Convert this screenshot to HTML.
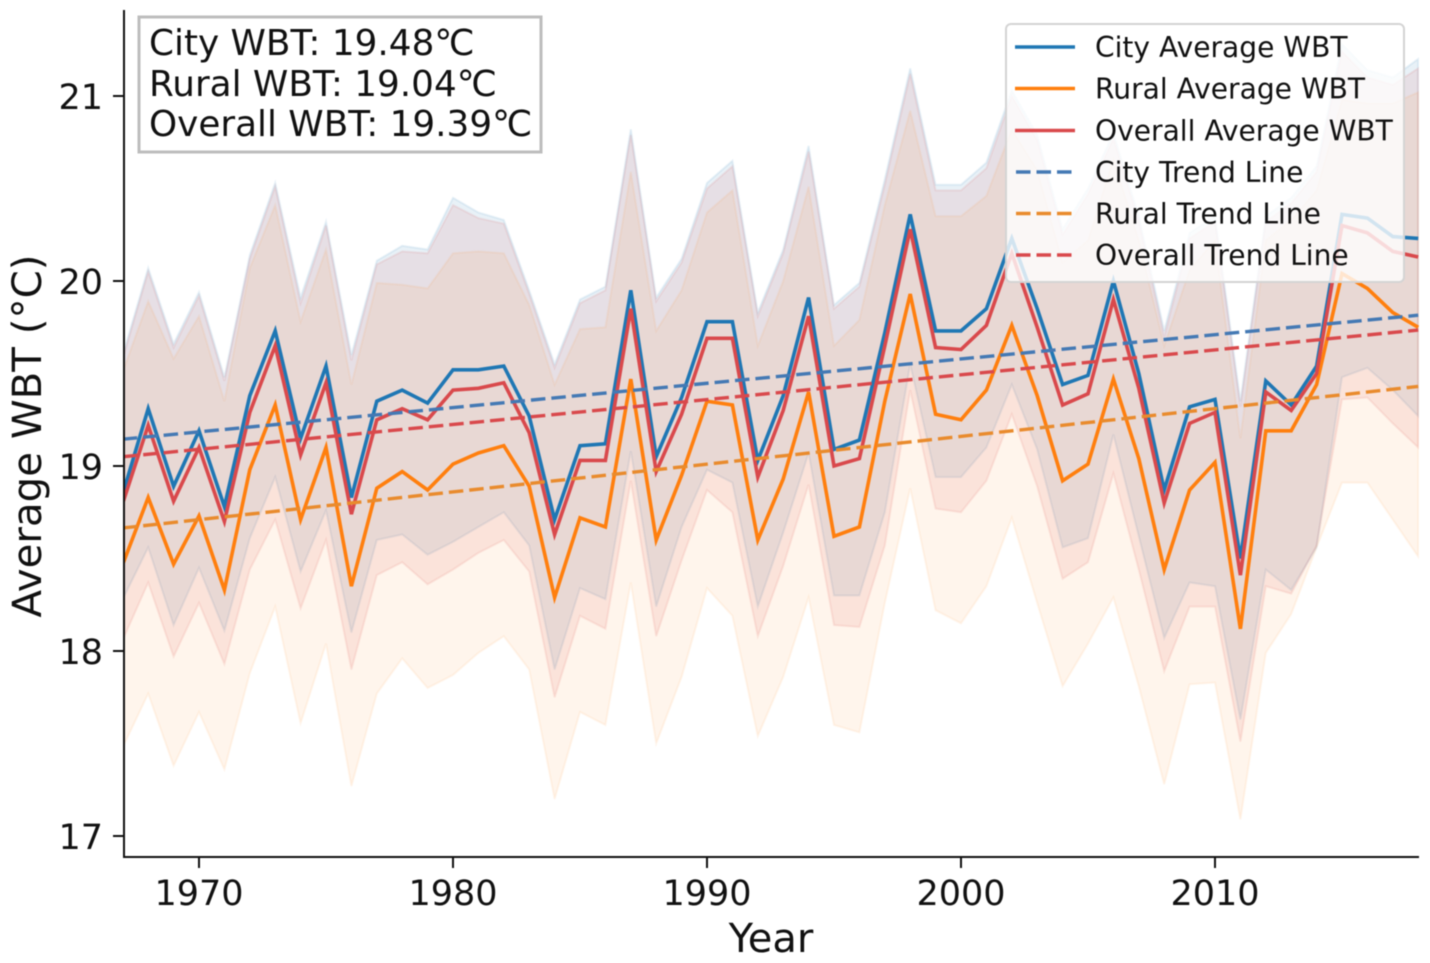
<!DOCTYPE html>
<html lang="en">
<head>
<meta charset="utf-8">
<title>Average WBT by Year</title>
<style>
html,body{margin:0;padding:0;background:#fff;width:1430px;height:963px;overflow:hidden}
svg{display:block;filter:blur(0.45px)}
text{font-family:"DejaVu Sans","Liberation Sans",sans-serif;fill:#111}
</style>
</head>
<body>
<svg id="chart" xmlns="http://www.w3.org/2000/svg" width="1430" height="963" viewBox="0 0 1430 963">
  <defs><clipPath id="plot-clip"><rect x="124" y="10" width="1295" height="847"/></clipPath></defs>
  <g id="bands" clip-path="url(#plot-clip)"></g>
  <g id="lines" clip-path="url(#plot-clip)"></g>
  <g id="axes"></g>
  <text x="771" y="952" font-size="40" text-anchor="middle">Year</text>
  <text transform="translate(41,436) rotate(-90)" font-size="40.300" text-anchor="middle">Average WBT (°C)</text>

  <g>
    <rect x="139" y="17" width="402" height="135" fill="#fff" stroke="#bdbdbd" stroke-width="3"/>
    <text x="149" y="55" font-size="35.8">City WBT: 19.48℃</text>
    <text x="149" y="96" font-size="35.8">Rural WBT: 19.04℃</text>
    <text x="149" y="136" font-size="35.8">Overall WBT: 19.39℃</text>
  </g>

  <g>
    <rect x="1006" y="24" width="398" height="258" rx="5" fill="#fff" fill-opacity="0.8" stroke="#d4d4d4" stroke-width="2"/>
    <g>
      <line x1="1015" x2="1075" y1="47" y2="47" stroke="#1f77b4" stroke-width="3.5"/>
      <text x="1095" y="57" font-size="28.1">City Average WBT</text>
    </g>
    <g>
      <line x1="1015" x2="1075" y1="88.5" y2="88.5" stroke="#ff7f0e" stroke-width="3.5"/>
      <text x="1095" y="98.500" font-size="28.1">Rural Average WBT</text>
    </g>
    <g>
      <line x1="1015" x2="1075" y1="130.5" y2="130.5" stroke="#d9494c" stroke-width="3.5"/>
      <text x="1095" y="140.500" font-size="28.1">Overall Average WBT</text>
    </g>
    <g>
      <line x1="1016" x2="1072" y1="172" y2="172" stroke="#4479b4" stroke-width="3.5" stroke-dasharray="14.500 6"/>
      <text x="1095" y="182" font-size="28.1">City Trend Line</text>
    </g>
    <g>
      <line x1="1016" x2="1072" y1="213.5" y2="213.5" stroke="#e98b2d" stroke-width="3.5" stroke-dasharray="14.500 6"/>
      <text x="1095" y="223.500" font-size="28.1">Rural Trend Line</text>
    </g>
    <g>
      <line x1="1016" x2="1072" y1="255" y2="255" stroke="#d9494c" stroke-width="3.5" stroke-dasharray="14.500 6"/>
      <text x="1095" y="265" font-size="28.1">Overall Trend Line</text>
    </g>
  </g>
</svg>
<script>
const xTickLabels = [1970, 1980, 1990, 2000, 2010];
const yTickLabels = [17, 18, 19, 20, 21];
const startYear = 1967;

const cityValues = [18.85,19.31,18.89,19.19,18.78,19.38,19.73,19.15,19.54,18.83,19.35,19.41,19.34,19.52,19.52,19.54,19.27,18.71,19.11,19.12,19.95,19.05,19.37,19.78,19.78,19.03,19.38,19.91,19.09,19.14,19.72,20.36,19.73,19.73,19.85,20.23,19.85,19.44,19.49,20.0,19.5,18.87,19.32,19.36,18.5,19.46,19.33,19.54,20.36,20.34,20.24,20.23];
const ruralValues = [18.47,18.83,18.47,18.73,18.33,18.98,19.33,18.71,19.10,18.35,18.88,18.97,18.87,19.01,19.07,19.11,18.89,18.29,18.72,18.67,19.47,18.60,18.95,19.35,19.33,18.60,18.93,19.40,18.62,18.67,19.35,19.93,19.28,19.25,19.41,19.76,19.38,18.92,19.01,19.47,19.04,18.44,18.87,19.02,18.12,19.19,19.19,19.44,20.04,19.96,19.83,19.75];
const overallValues = [18.80,19.22,18.81,19.10,18.70,19.29,19.65,19.06,19.45,18.74,19.25,19.31,19.25,19.41,19.42,19.45,19.18,18.63,19.03,19.03,19.85,18.97,19.28,19.69,19.69,18.94,19.30,19.81,19.0,19.04,19.65,20.28,19.64,19.63,19.76,20.15,19.75,19.33,19.39,19.90,19.42,18.80,19.23,19.29,18.41,19.40,19.30,19.50,20.30,20.26,20.16,20.13];

const cityUpper = [19.6,20.07,19.66,19.94,19.48,20.14,20.53,19.91,20.32,19.6,20.11,20.19,20.17,20.45,20.37,20.33,19.95,19.55,19.9,19.97,20.82,19.91,20.12,20.53,20.65,19.83,20.17,20.73,19.87,19.99,20.55,21.15,20.52,20.52,20.64,21.03,20.79,20.28,20.5,20.8,20.35,19.73,20.26,20.35,19.35,20.35,20.45,20.62,21.28,21.14,21.1,21.2];
const cityLower = [18.28,18.56,18.14,18.45,18.11,18.61,18.94,18.43,18.76,18.1,18.6,18.63,18.52,18.59,18.67,18.75,18.57,17.9,18.34,18.28,19.08,18.24,18.67,18.98,18.91,18.24,18.64,19.07,18.3,18.3,18.75,19.55,18.94,18.94,19.1,19.44,19.09,18.56,18.61,19.17,18.62,18.07,18.37,18.35,17.63,18.44,18.33,18.56,19.48,19.53,19.41,19.27];
const ruralUpper = [19.51,19.89,19.58,19.81,19.35,20.07,20.41,19.78,20.17,19.44,19.99,19.98,19.96,20.15,20.16,20.15,19.87,19.44,19.74,19.75,20.59,19.73,19.95,20.37,20.49,19.65,20.0,20.51,19.65,19.79,20.41,20.92,20.35,20.35,20.46,20.82,20.6,20.1,20.22,20.66,20.22,19.65,20.06,20.22,19.15,20.22,20.33,20.49,20.98,20.96,20.96,21.02];
const ruralLower = [17.48,17.77,17.38,17.67,17.36,17.88,18.24,17.61,18.04,17.27,17.77,17.96,17.8,17.87,17.99,18.08,17.9,17.2,17.67,17.6,18.37,17.5,17.86,18.34,18.19,17.54,17.86,18.29,17.6,17.56,18.26,18.88,18.22,18.15,18.35,18.72,18.26,17.81,18.04,18.29,17.81,17.28,17.82,17.83,17.09,17.99,18.2,18.56,18.91,18.91,18.71,18.51];
const overallUpper = [19.58,20.05,19.64,19.92,19.46,20.12,20.51,19.88,20.3,19.57,20.09,20.16,20.15,20.41,20.34,20.31,19.93,19.53,19.88,19.95,20.79,19.89,20.1,20.5,20.62,19.81,20.15,20.7,19.85,19.97,20.52,21.12,20.49,20.49,20.61,21.0,20.76,20.25,20.47,20.77,20.32,19.7,20.23,20.32,19.32,20.32,20.42,20.59,21.24,21.1,21.06,21.15];
const overallLower = [18.06,18.37,17.97,18.26,17.93,18.44,18.71,18.23,18.6,17.9,18.41,18.48,18.36,18.44,18.53,18.6,18.43,17.75,18.19,18.12,18.92,18.08,18.49,18.87,18.75,18.08,18.46,18.9,18.14,18.13,18.57,19.41,18.77,18.75,18.92,19.28,18.89,18.39,18.48,18.96,18.44,17.89,18.24,18.24,17.51,18.35,18.31,18.57,19.36,19.37,19.23,19.1];

const trendYears = [1967, 2018];
const cityTrend = [19.145, 19.815];
const ruralTrend = [18.665, 19.43];
const overallTrend = [19.05, 19.735];

const NS = 'http://www.w3.org/2000/svg';
function xScale(year) { return 199 + (year - 1970) * 25.4; }
function yScale(v) { return 836 - (v - 17) * 185; }
function yearOf(i) { return startYear + i; }

function linePoints(values) {
  return values.map(function (v, i) { return xScale(yearOf(i)).toFixed(1) + ',' + yScale(v).toFixed(1); }).join(' ');
}
function bandPoints(upper, lower) {
  const top = upper.map(function (v, i) { return xScale(yearOf(i)).toFixed(1) + ',' + yScale(v).toFixed(1); });
  const bottom = lower.map(function (v, i) { return xScale(yearOf(i)).toFixed(1) + ',' + yScale(v).toFixed(1); }).reverse();
  return top.concat(bottom).join(' ');
}

const bandsGroup = document.getElementById('bands');
const linesGroup = document.getElementById('lines');
const axesGroup = document.getElementById('axes');

function addBand(name, upper, lower, color, alpha) {
  const el = document.createElementNS(NS, 'polygon');
  
  
  el.setAttribute('points', bandPoints(upper, lower));
  el.setAttribute('fill', color);
  el.setAttribute('fill-opacity', alpha);
  el.setAttribute('stroke', color);
  el.setAttribute('stroke-opacity', alpha);
  el.setAttribute('stroke-width', '2');
  bandsGroup.appendChild(el);
}
addBand('city-band', cityUpper, cityLower, '#1f77b4', 0.1);
addBand('rural-band', ruralUpper, ruralLower, '#ff7f0e', 0.08);
addBand('overall-band', overallUpper, overallLower, '#d62728', 0.085);

function addLine(name, values, color) {
  const el = document.createElementNS(NS, 'polyline');
  
  
  el.setAttribute('points', linePoints(values));
  el.setAttribute('fill', 'none');
  el.setAttribute('stroke', color);
  el.setAttribute('stroke-width', '3.6');
  el.setAttribute('stroke-linejoin', 'miter');
  linesGroup.appendChild(el);
}
addLine('city-average-line', cityValues, '#1f77b4');
addLine('rural-average-line', ruralValues, '#ff7f0e');
addLine('overall-average-line', overallValues, '#d9494c');

function addTrend(name, values, color) {
  const el = document.createElementNS(NS, 'line');
  
  
  el.setAttribute('x1', xScale(trendYears[0]));
  el.setAttribute('x2', xScale(trendYears[1]));
  el.setAttribute('y1', yScale(values[0]));
  el.setAttribute('y2', yScale(values[1]));
  el.setAttribute('stroke', color);
  el.setAttribute('stroke-width', '3.4');
  el.setAttribute('stroke-dasharray', '14.5 6');
  linesGroup.appendChild(el);
}
addTrend('city-trend-line', cityTrend, '#4479b4');
addTrend('rural-trend-line', ruralTrend, '#e98b2d');
addTrend('overall-trend-line', overallTrend, '#d9494c');

function addSegment(name, x1, y1, x2, y2) {
  const el = document.createElementNS(NS, 'line');
  
  
  el.setAttribute('x1', x1);
  el.setAttribute('y1', y1);
  el.setAttribute('x2', x2);
  el.setAttribute('y2', y2);
  el.setAttribute('stroke', '#111');
  el.setAttribute('stroke-width', '2');
  axesGroup.appendChild(el);
}
addSegment('y-axis-spine', 124, 10, 124, 858);
addSegment('x-axis-spine', 123, 857, 1419, 857);

xTickLabels.forEach(function (label) {
  const x = xScale(label);
  addSegment('x-tick', x, 857, x, 868);
  const t = document.createElementNS(NS, 'text');
  
  
  t.setAttribute('x', x);
  t.setAttribute('y', 905);
  t.setAttribute('font-size', '35');
  t.setAttribute('text-anchor', 'middle');
  t.textContent = label;
  axesGroup.appendChild(t);
});
yTickLabels.forEach(function (label) {
  const y = yScale(label);
  addSegment('y-tick', 113, y, 124, y);
  const t = document.createElementNS(NS, 'text');
  
  
  t.setAttribute('x', 103);
  t.setAttribute('y', y + 13);
  t.setAttribute('font-size', '35');
  t.setAttribute('text-anchor', 'end');
  t.textContent = label;
  axesGroup.appendChild(t);
});
</script>
</body>
</html>
